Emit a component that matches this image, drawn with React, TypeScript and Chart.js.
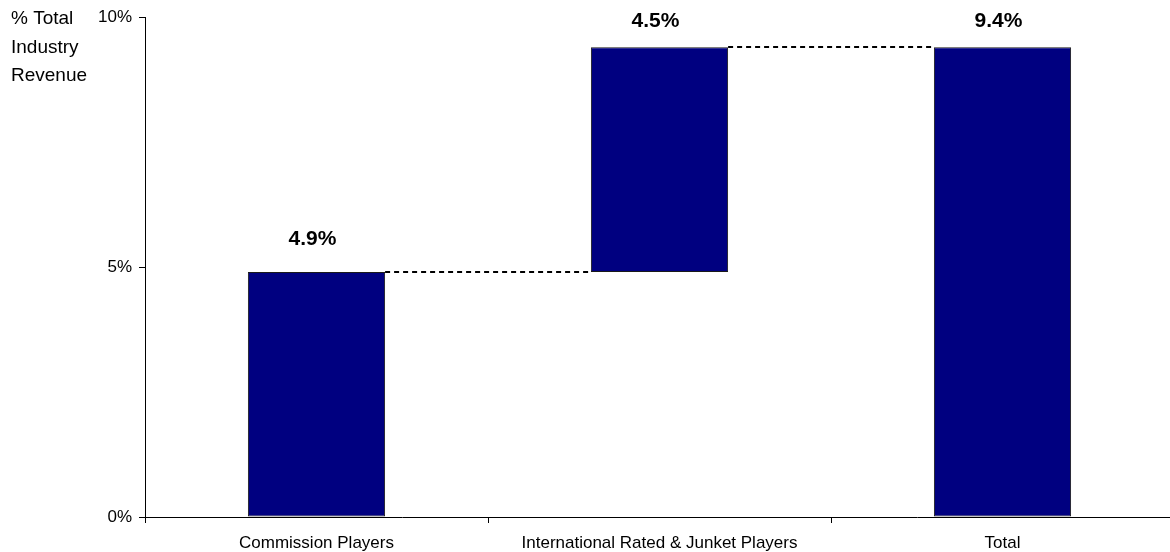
import React, { useEffect, useRef } from "react";
import { Chart, registerables } from "chart.js";

Chart.register(...registerables);

const categories = ["Commission Players", "International Rated & Junket Players", "Total"];
const deltas = [4.9, 4.5, 9.4];
const isTotal = [false, false, true];
const yTicks = [0, 5, 10];
const titleLines = ["% Total", "Industry", "Revenue"];

const FONT = "'Liberation Sans', Arial, sans-serif";

export default function App() {
  const ref = useRef<HTMLCanvasElement | null>(null);

  useEffect(() => {
    if (!ref.current) return;
    let running = 0;
    const floating = deltas.map((d, i) => {
      if (isTotal[i]) return [0, d];
      const s = running;
      running += d;
      return [s, running];
    });

    const overlay = {
      id: "overlay",
      afterDatasetsDraw(chart: any) {
        const ctx = chart.ctx;
        const meta = chart.getDatasetMeta(0);
        const y = chart.scales.y;
        ctx.save();
        // connectors
        ctx.strokeStyle = "#000";
        ctx.lineWidth = 2;
        ctx.setLineDash([5, 4]);
        for (let i = 0; i < meta.data.length - 1; i++) {
          const a = meta.data[i] as any;
          const b = meta.data[i + 1] as any;
          const level = floating[i][1];
          const yy = Math.round(y.getPixelForValue(level));
          ctx.beginPath();
          ctx.moveTo(a.x + a.width / 2, yy);
          ctx.lineTo(b.x - b.width / 2, yy);
          ctx.stroke();
        }
        ctx.setLineDash([]);
        // value labels
        ctx.fillStyle = "#000";
        ctx.font = "bold 21px " + FONT;
        ctx.textAlign = "center";
        ctx.textBaseline = "middle";
        meta.data.forEach((el: any, i: number) => {
          const top = y.getPixelForValue(floating[i][1]);
          const ly = Math.max(top - 33, 21);
          ctx.fillText(deltas[i].toFixed(1) + "%", el.x - 4, ly);
        });
        // axis title
        ctx.font = "19px " + FONT;
        ctx.textAlign = "left";
        titleLines.forEach((t, i) => ctx.fillText(t, 11, 19 + i * 28.5));
        ctx.restore();
      },
    };

    const chart = new Chart(ref.current, {
      type: "bar",
      data: {
        labels: categories,
        datasets: [
          {
            data: floating as any,
            backgroundColor: "#000080",
            borderColor: "#1a1a1a",
            borderWidth: 1,
            borderSkipped: false,
            categoryPercentage: 1,
            barPercentage: 0.4,
          },
        ],
      },
      options: {
        animation: false,
        responsive: false,
        maintainAspectRatio: false,
        layout: { padding: { top: 16, left: 0, right: 6, bottom: 0 } },
        plugins: { legend: { display: false }, tooltip: { enabled: false } },
        scales: {
          x: {
            afterFit: (s: any) => { s.height = 35; },
            grid: {
              offset: true,
              drawOnChartArea: false,
              drawTicks: true,
              tickLength: 6,
              color: "#000",
            },
            border: { color: "#000", width: 1 },
            ticks: {
              color: "#000",
              padding: 10,
              font: { family: FONT, size: 17 },
            },
          },
          y: {
            min: 0,
            max: 10,
            afterFit: (s: any) => { s.width = 145; },
            afterBuildTicks: (s: any) => { s.ticks = yTicks.map((v) => ({ value: v })); },
            grid: { drawOnChartArea: false, drawTicks: true, tickLength: 6, color: "#000" },
            border: { color: "#000", width: 1 },
            ticks: {
              color: "#000",
              padding: 7,
              callback: (v: any) => v + "%",
              font: { family: FONT, size: 17 },
            },
          },
        },
      },
      plugins: [overlay],
    });
    return () => chart.destroy();
  }, []);

  return (
    <div style={{ position: "fixed", left: 0, top: 0, width: 1170, height: 552, overflow: "hidden", background: "#fff" }}>
      <canvas ref={ref} width={1180} height={552} style={{ width: 1180, height: 552, display: "block" }} />
    </div>
  );
}
